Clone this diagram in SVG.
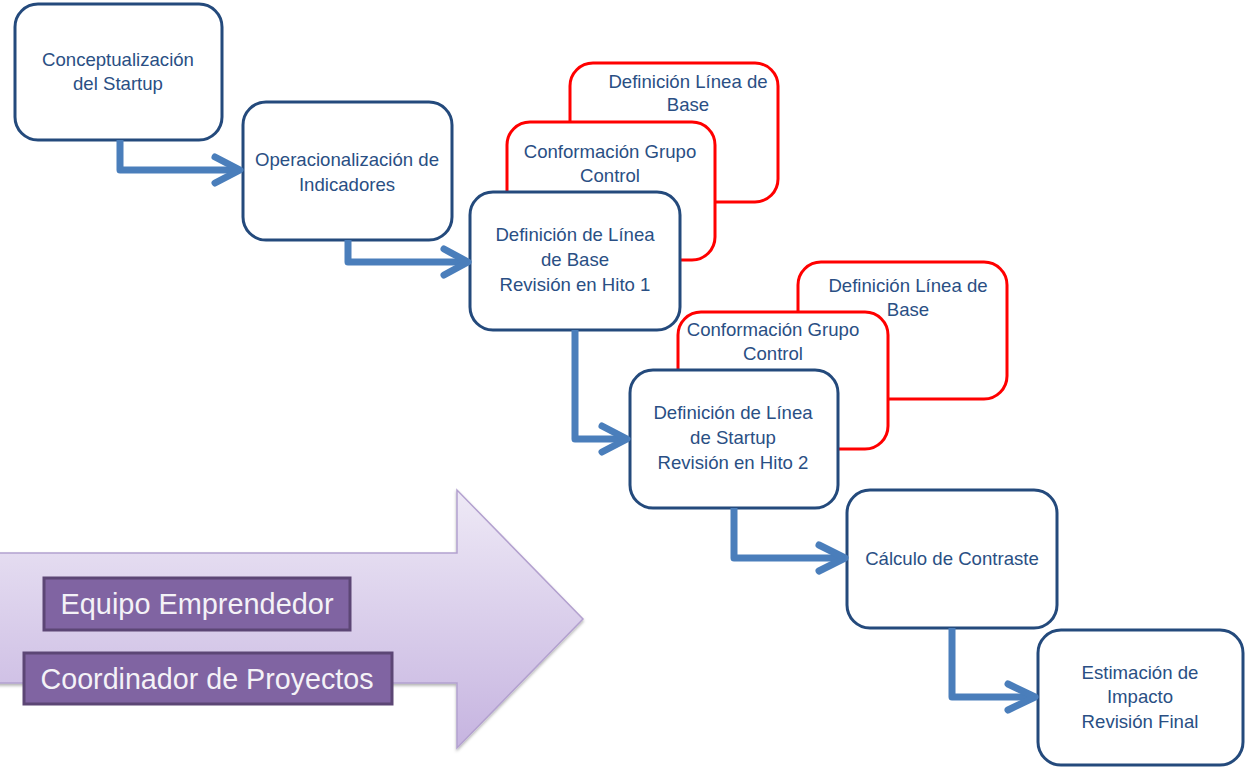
<svg xmlns="http://www.w3.org/2000/svg" width="1245" height="767" viewBox="0 0 1245 767">
  <defs>
    <linearGradient id="arrowFill" x1="0" y1="490" x2="0" y2="748" gradientUnits="userSpaceOnUse">
      <stop offset="0" stop-color="#EEE9F6"/>
      <stop offset="1" stop-color="#C6B4E0"/>
    </linearGradient>
    <filter id="softShadow" x="-5%" y="-5%" width="110%" height="115%">
      <feDropShadow dx="0" dy="2" stdDeviation="1.5" flood-color="#000" flood-opacity="0.3"/>
    </filter>
    <style>
      .step { fill: #FFFFFF; stroke: #244A7C; stroke-width: 3; }
      .ctrl { fill: #FFFFFF; stroke: #FF0000; stroke-width: 3; }
      .lbl  { font-family: "Liberation Sans", Arial, sans-serif; font-size: 18.6px; fill: #2A4F84; text-anchor: middle; }
      .conn { fill: none; stroke: #4A7EBB; stroke-width: 7; stroke-linejoin: round; }
      .head { fill: none; stroke: #4A7EBB; stroke-width: 7; stroke-linecap: round; stroke-linejoin: round; }
      .role { fill: #8064A2; stroke: #5C4675; stroke-width: 3; }
      .roleText { font-family: "Liberation Sans", Arial, sans-serif; font-size: 28.6px; fill: #F4F2F7; text-anchor: middle; }
    </style>
  </defs>

  <rect width="1245" height="767" fill="#FFFFFF"/>

  <!-- Big process arrow with the two roles -->
  <g id="process-arrow">
    <path d="M -5 553 H 457 V 490 L 583 619 L 457 748 V 683 H -5 Z" fill="url(#arrowFill)" stroke="#B3A1CF" stroke-width="1.5" filter="url(#softShadow)"/>
  </g>
  <g id="role-equipo">
    <rect class="role" x="44" y="578" width="306" height="52"/>
    <text class="roleText" x="197" y="614" textLength="273" lengthAdjust="spacingAndGlyphs">Equipo Emprendedor</text>
  </g>
  <g id="role-coordinador">
    <rect class="role" x="24" y="653" width="368" height="51"/>
    <text class="roleText" x="207" y="689" textLength="333" lengthAdjust="spacingAndGlyphs">Coordinador de Proyectos</text>
  </g>

  <!-- Step 1 -->
  <g id="conceptualizacion">
    <rect class="step" x="15" y="4" width="207" height="136" rx="23"/>
    <text class="lbl" x="118" y="66">Conceptualización</text>
    <text class="lbl" x="118" y="90">del Startup</text>
  </g>

  <!-- Step 2 -->
  <g id="operacionalizacion">
    <rect class="step" x="243" y="102" width="209" height="138" rx="23"/>
    <text class="lbl" x="347" y="166">Operacionalización de</text>
    <text class="lbl" x="347" y="191">Indicadores</text>
  </g>

  <!-- Hito 1 side tasks -->
  <g id="linea-base-1">
    <rect class="ctrl" x="570" y="63" width="208" height="139" rx="23"/>
    <text class="lbl" x="688" y="88">Definición Línea de</text>
    <text class="lbl" x="688" y="111">Base</text>
  </g>
  <g id="grupo-control-1">
    <rect class="ctrl" x="507" y="122" width="208" height="138" rx="23"/>
    <text class="lbl" x="610" y="158">Conformación Grupo</text>
    <text class="lbl" x="610" y="182">Control</text>
  </g>

  <!-- Step 3 -->
  <g id="hito-1">
    <rect class="step" x="470" y="192" width="210" height="138" rx="23"/>
    <text class="lbl" x="575" y="241">Definición de Línea</text>
    <text class="lbl" x="575" y="266">de Base</text>
    <text class="lbl" x="575" y="291">Revisión en Hito 1</text>
  </g>

  <!-- Hito 2 side tasks -->
  <g id="linea-base-2">
    <rect class="ctrl" x="798" y="262" width="209" height="137" rx="23"/>
    <text class="lbl" x="908" y="292">Definición Línea de</text>
    <text class="lbl" x="908" y="316">Base</text>
  </g>
  <g id="grupo-control-2">
    <rect class="ctrl" x="678" y="312" width="210" height="137" rx="23"/>
    <text class="lbl" x="773" y="336">Conformación Grupo</text>
    <text class="lbl" x="773" y="360">Control</text>
  </g>

  <!-- Step 4 -->
  <g id="hito-2">
    <rect class="step" x="630" y="370" width="208" height="138" rx="23"/>
    <text class="lbl" x="733" y="419">Definición de Línea</text>
    <text class="lbl" x="733" y="444">de Startup</text>
    <text class="lbl" x="733" y="469">Revisión en Hito 2</text>
  </g>

  <!-- Step 5 -->
  <g id="contraste">
    <rect class="step" x="847" y="490" width="210" height="138" rx="23"/>
    <text class="lbl" x="952" y="565">Cálculo de Contraste</text>
  </g>

  <!-- Step 6 -->
  <g id="impacto">
    <rect class="step" x="1038" y="630" width="205" height="135" rx="23"/>
    <text class="lbl" x="1140" y="679">Estimación de</text>
    <text class="lbl" x="1140" y="703">Impacto</text>
    <text class="lbl" x="1140" y="728">Revisión Final</text>
  </g>

  <!-- Elbow connectors between steps -->
  <g id="connectors">
    <path class="conn" d="M 120 140 V 170 H 238"/>
    <path class="head" d="M 215 157 L 240 170 L 215 183"/>

    <path class="conn" d="M 348 240 V 262 H 466"/>
    <path class="head" d="M 444 249 L 468 262 L 444 275"/>

    <path class="conn" d="M 575 330 V 439 H 626"/>
    <path class="head" d="M 602 426 L 627 439 L 602 452"/>

    <path class="conn" d="M 734 508 V 558 H 844"/>
    <path class="head" d="M 819 545 L 845 558 L 819 571"/>

    <path class="conn" d="M 952 628 V 697 H 1034"/>
    <path class="head" d="M 1008 684 L 1035 697 L 1008 710"/>
  </g>
</svg>
